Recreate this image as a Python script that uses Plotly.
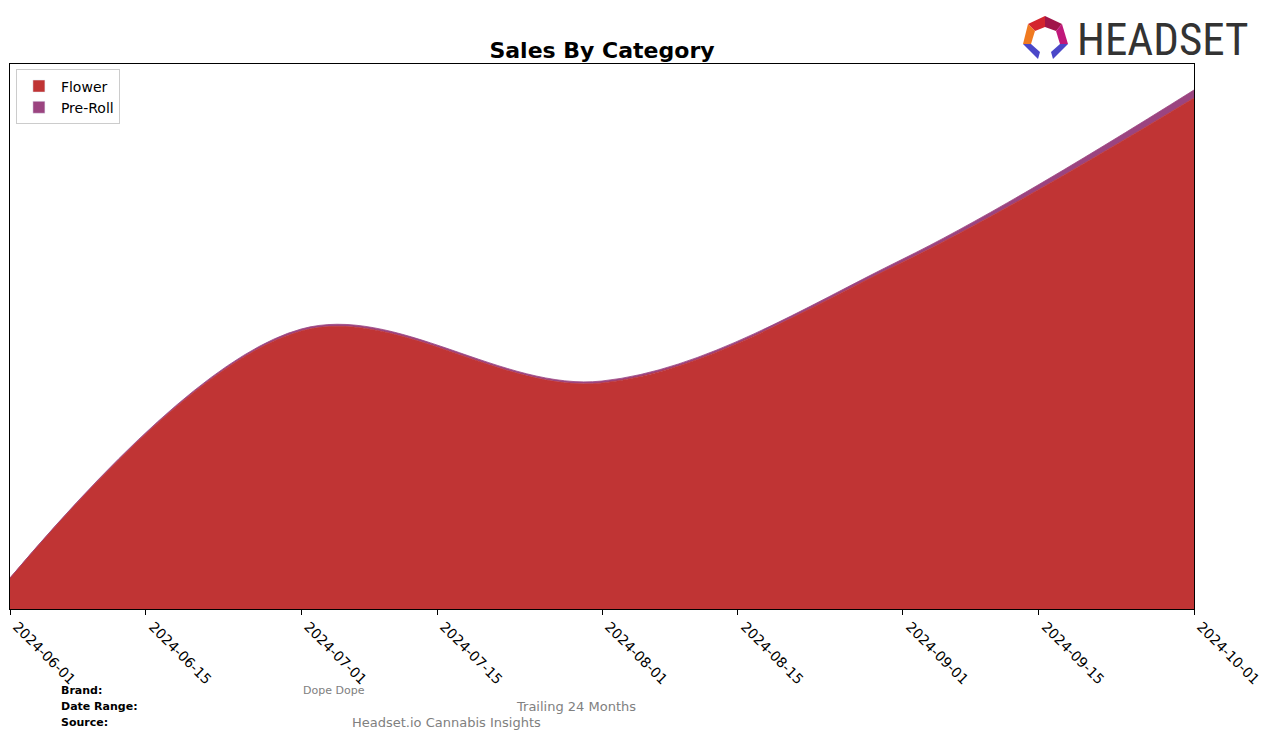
import plotly.graph_objects as go

dates = ["2024-06-01", "2024-07-01", "2024-08-01", "2024-09-01", "2024-10-01"]
flower = [31, 278, 226, 347, 511]
preroll = [0, 2, 2, 3, 8]
tick_vals = ["2024-06-01", "2024-06-15", "2024-07-01", "2024-07-15", "2024-08-01",
             "2024-08-15", "2024-09-01", "2024-09-15", "2024-10-01"]

W, H = 1270, 738
OFF = 8  # page body offset
L, R, T, B = 10, 1194, 64, 609  # target screen coords of plot area
FLOWER_C = "#c03434"
PREROLL_C = "#9b4480"

fig = go.Figure()
fig.add_trace(go.Scatter(x=dates, y=flower, name="Flower", stackgroup="one", showlegend=False,
                         mode="lines", line=dict(color=FLOWER_C, width=0.8, shape="spline", smoothing=1.0),
                         fillcolor=FLOWER_C))
fig.add_trace(go.Scatter(x=dates, y=preroll, name="Pre-Roll", stackgroup="one", showlegend=False,
                         mode="lines", line=dict(color=PREROLL_C, width=0.8, shape="spline", smoothing=1.0),
                         fillcolor=PREROLL_C))
fig.add_trace(go.Bar(x=[None], y=[None], name="Flower", marker=dict(color=FLOWER_C)))
fig.add_trace(go.Bar(x=[None], y=[None], name="Pre-Roll", marker=dict(color=PREROLL_C)))

fig.update_layout(
    width=W, height=H,
    margin=dict(l=L - OFF, r=W - (R - OFF), t=T - OFF, b=H - (B - OFF), autoexpand=False),
    paper_bgcolor="white", plot_bgcolor="white",
    font=dict(family="DejaVu Sans", color="black"),
    title=dict(text="<b>Sales By Category</b>", x=(602 - OFF) / W, xanchor="center",
               y=1 - (50 - OFF) / H, yanchor="middle", font=dict(size=22, family="DejaVu Sans")),
    showlegend=True,
    legend=dict(x=0.005, y=0.99, xanchor="left", yanchor="top", traceorder="normal",
                bordercolor="#cccccc", borderwidth=1, bgcolor="white",
                font=dict(size=14), itemwidth=34, tracegroupgap=2),
    xaxis=dict(range=["2024-06-01", "2024-10-01"], tickmode="array", tickvals=tick_vals,
               ticktext=tick_vals, tickangle=45, ticks="outside", ticklen=5, tickcolor="black",
               ticklabeloverflow="allow", ticklabelshift=7, ticklabelstandoff=-2,
               showline=True, linecolor="black", linewidth=1, mirror=True, automargin=False,
               showgrid=False, zeroline=False, tickfont=dict(size=14)),
    yaxis=dict(range=[0, 545], showticklabels=False, ticks="", showgrid=False, automargin=False,
               showline=True, linecolor="black", linewidth=1, mirror=True, zeroline=False),
)

def px(x): return (x - L) / (R - L)
def py(y): return (B - y) / (B - T)

footer = [("<b>Brand:</b>", 59, 690), ("<b>Date Range:</b>", 59, 706), ("<b>Source:</b>", 59, 722)]
for txt, x, y in footer:
    fig.add_annotation(text=txt, x=px(x), y=py(y), xref="paper", yref="paper",
                       xanchor="left", yanchor="middle", showarrow=False,
                       font=dict(size=11, color="black", family="DejaVu Sans"))
values = [("Dope Dope", 301, 690, 11), ("Trailing 24 Months", 514, 706, 13),
          ("Headset.io Cannabis Insights", 350, 722, 13)]
for txt, x, y, s in values:
    fig.add_annotation(text=txt, x=px(x), y=py(y), xref="paper", yref="paper",
                       xanchor="left", yanchor="middle", showarrow=False,
                       font=dict(size=s, color="#808080", family="DejaVu Sans"))

# logo
fig.add_annotation(text="HEADSET", x=px(1075), y=py(39), xref="paper", yref="paper",
                   xanchor="left", yanchor="middle", showarrow=False,
                   font=dict(size=45, color="#333333",
                             family="Liberation Sans Narrow, Roboto Condensed, DejaVu Sans Condensed"))

def poly(pts, color):
    d = "M " + " L ".join(f"{px(x):.5f},{py(y):.5f}" for x, y in pts) + " Z"
    fig.add_shape(type="path", path=d, xref="paper", yref="paper", fillcolor=color,
                  line=dict(width=0), layer="above")

poly([(1028, 24), (1045, 16), (1045, 27), (1035, 31)], "#d4252e")
poly([(1045, 16), (1062, 24), (1056, 31), (1045, 27)], "#a0154a")
poly([(1062, 24), (1068, 44), (1060, 44), (1056, 31)], "#c0187a")
poly([(1028, 24), (1035, 31), (1031, 44), (1023, 44)], "#f07a20")
poly([(1023, 44), (1031, 44), (1040, 52), (1038, 59)], "#4a47c8")
poly([(1068, 44), (1060, 44), (1051, 52), (1053, 59)], "#4a47c8")

fig.write_html("out.html")
